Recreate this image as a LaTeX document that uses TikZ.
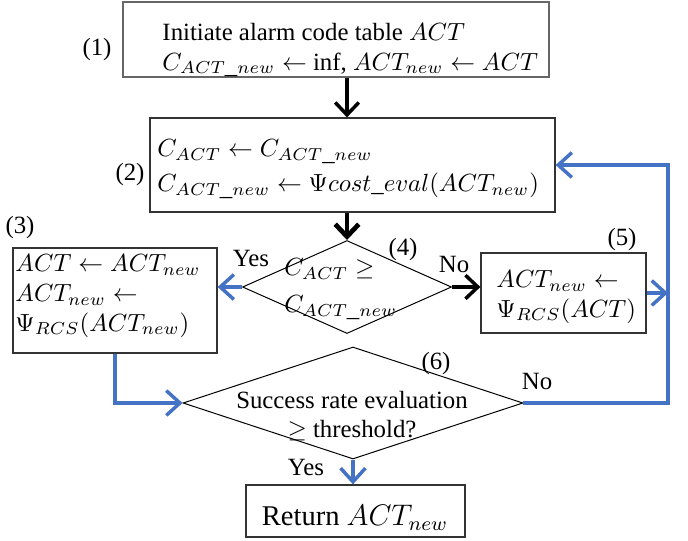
\documentclass[tikz,border=0pt]{standalone}
\usepackage{fontspec}
\setmainfont{Liberation Serif}
\usetikzlibrary{arrows.meta,shapes.geometric,fit}
\definecolor{azul}{RGB}{68,114,196}
\newcommand\pxu{0.403pt}
\tikzset{
  caixa/.style={draw=black!80, line width=0.5pt, inner sep=0pt},
  losango/.style={draw, diamond, line width=0.4pt, inner sep=0pt},
  texto/.style={align=left, inner sep=0pt, anchor=west},
  rotulo/.style={inner sep=0pt},
  setapreta/.style={-{Straight Barb[length=5pt,width=9.5pt]}, line width=1.4pt},
  setaazul/.style={-{Straight Barb[length=5.5pt,width=10pt]}, line width=1.4pt, azul},
}
\begin{document}
\begin{tikzpicture}[x=\pxu, y=-\pxu] %escala em pixels
  \useasboundingbox (0,0) rectangle (688,540);
  %Caixas
  \node[caixa, draw=black!60, fit={(123,2) (549,77)}] (b1) {};
  \node[caixa, fit={(150,118) (555,212)}] (b2) {};
  \node[caixa, fit={(13,248) (217,353)}] (b3) {};
  \node[caixa, fit={(481,253) (646,333)}] (b5) {};
  \node[caixa, fit={(246,485) (465,537)}] (b7) {};
  %Losangos
  \node[losango, minimum width=209*\pxu, minimum height=93*\pxu] (d4) at (347,287) {};
  \node[losango, minimum width=340*\pxu, minimum height=112*\pxu] (d6) at (353,403) {};
  %Textos
  \node[texto] (t1) at (162,50) {Initiate alarm code table $ACT$\\ $C_{ACT\_new} \leftarrow$ inf, $ACT_{new} \leftarrow ACT$};
  \node[texto] (t2) at (157,169) {$C_{ACT} \leftarrow C_{ACT\_new}$\\[2pt] $C_{ACT\_new} \leftarrow \Psi cost\_eval(ACT_{new})$};
  \node[texto] (t3) at (15,296) {$ACT \leftarrow ACT_{new}$\\ $ACT_{new} \leftarrow$\\ $\Psi_{RCS}(ACT_{new})$};
  \node[texto] (t4) at (284,289) {$C_{ACT} \geq$\\[3pt] $C_{ACT\_new}$};
  \node[texto] (t5) at (496,297) {$ACT_{new} \leftarrow$\\ $\Psi_{RCS}(ACT)$};
  \node[align=center, inner sep=0pt] (t6) at (352,416) {Success rate evaluation\\ $\geq$ threshold?};
  \node[rotulo, font=\fontsize{11.5}{13}\selectfont] (t7) at (355,518) {Return $ACT_{new}$};
  %Rotulos
  \node[rotulo] (r1) at (97,50) {(1)};
  \node[rotulo] (r2) at (130,175) {(2)};
  \node[rotulo] (r3) at (20,228) {(3)};
  \node[rotulo] (r4) at (403,250) {(4)};
  \node[rotulo] (r5) at (622,240) {(5)};
  \node[rotulo] (r6) at (436,364) {(6)};
  \node[rotulo] (sim4) at (251,258) {Yes};
  \node[rotulo] (nao4) at (454,264) {No};
  \node[rotulo] (nao6) at (537,381) {No};
  \node[rotulo] (sim6) at (306,467) {Yes};
  %Setas
  \coordinate (retorno) at (668,165);
  \draw[setapreta] (b1.south -| d4.north) -- (b2.north -| d4.north);
  \draw[setapreta, line width=1.9pt] (b2.south -| d4.north) -- (d4.north);
  \draw[setaazul] (d4.west) -- (b3.east |- d4.west);
  \draw[setapreta] (d4.east) -- (b5.west |- d4.east);
  \draw[setaazul] (b5.east) -- (b5.east -| retorno);
  \draw[setaazul] (d6.east) -| (retorno) -- (b2.east);
  \draw[setaazul] (b3.south) |- (d6.west);
  \draw[setaazul] (d6.south) -- (b7.north -| d6.south);
\end{tikzpicture}
\end{document}
